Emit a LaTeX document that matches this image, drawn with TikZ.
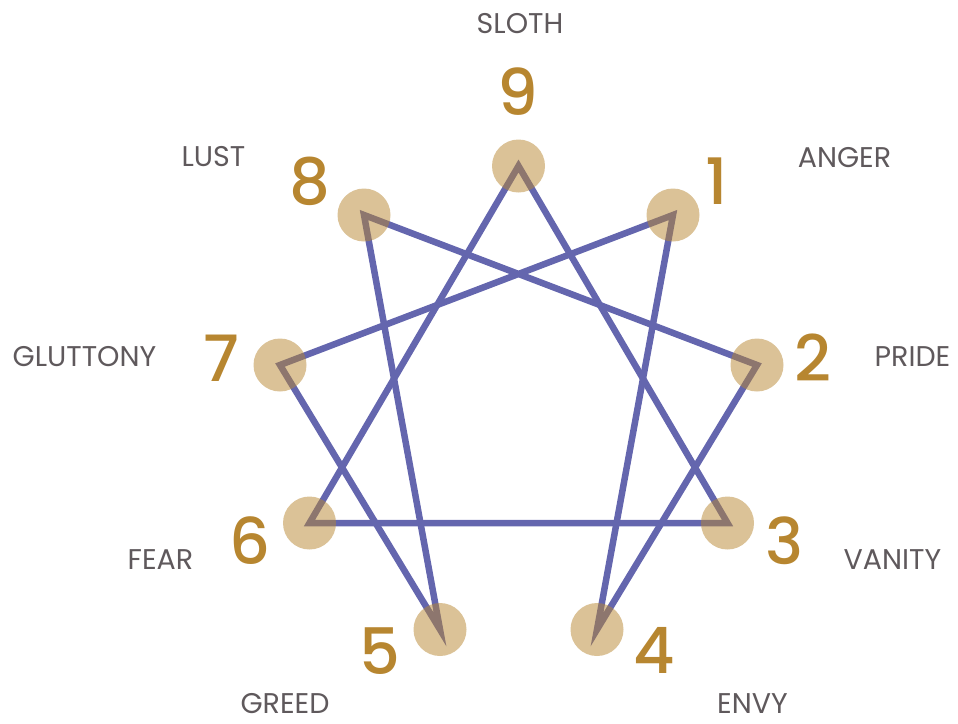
\documentclass[tikz,border=0pt]{standalone}
\usepackage{fontspec}
\setmainfont{Poppins}
\newfontfamily\numfont{Poppins Medium}
\usepackage{xcolor}
\usepackage{tikz}
\usetikzlibrary{positioning}

\definecolor{linkblue}{RGB}{100,102,174}
\definecolor{gold}{RGB}{183,134,48}
\definecolor{labelgray}{RGB}{95,89,92}

\begin{document}
\begin{tikzpicture}[
  x=1pt, y=-1pt,
  dot/.style   = {circle, fill=gold, fill opacity=0.5, minimum size=53pt,
                  inner sep=0pt},
  num/.style   = {text=gold, font=\numfont\fontsize{64}{64}\selectfont,
                  inner sep=0pt},
  sin/.style   = {text=labelgray, font=\fontsize{28.5}{28.5}\selectfont,
                  inner sep=0pt},
  link/.style  = {draw=linkblue, line width=6.5pt, miter limit=10}
]
\useasboundingbox (0,0) rectangle (958,723);

% points of the figure
\coordinate (v9) at (518.5,166);
\coordinate (v1) at (673,215);
\coordinate (v2) at (757,365);
\coordinate (v3) at (727.5,523);
\coordinate (v4) at (597,629.5);
\coordinate (v5) at (440,629.5);
\coordinate (v6) at (309.5,523);
\coordinate (v7) at (280,365);
\coordinate (v8) at (364,215);

% triangle and hexad
\draw[link] (v9) -- (v3) -- (v6) -- cycle;
\draw[link] (v1) -- (v4) -- (v2) -- (v8) -- (v5) -- (v7) -- cycle;

\foreach \k in {1,...,9}
  \node[dot] (d\k) at (v\k) {};

\node[num] (n9) at (518,92)    {9};
\node[num] (n1) at (717,181)   {1};
\node[num] (n2) at (813,358)   {2};
\node[num] (n3) at (784.5,541) {3};
\node[num] (n4) at (654,650)   {4};
\node[num] (n5) at (379.5,651) {5};
\node[num] (n6) at (250,541)   {6};
\node[num] (n7) at (221,358)   {7};
\node[num] (n8) at (310,181)   {8};

\node[sin] (sloth)    at (520,23.5)  {SLOTH};
\node[sin] (anger)    at (844.5,158) {ANGER};
\node[sin] (pride)    at (912.5,357) {PRIDE};
\node[sin] (vanity)   at (892.5,560) {VANITY};
\node[sin] (envy)     at (752.5,704) {ENVY};
\node[sin] (greed)    at (285,704)   {GREED};
\node[sin] (fear)     at (160.5,560) {FEAR};
\node[sin] (gluttony) at (84.5,357)  {GLUTTONY};
\node[sin] (lust)     at (213.5,157) {LUST};
\end{tikzpicture}
\end{document}
